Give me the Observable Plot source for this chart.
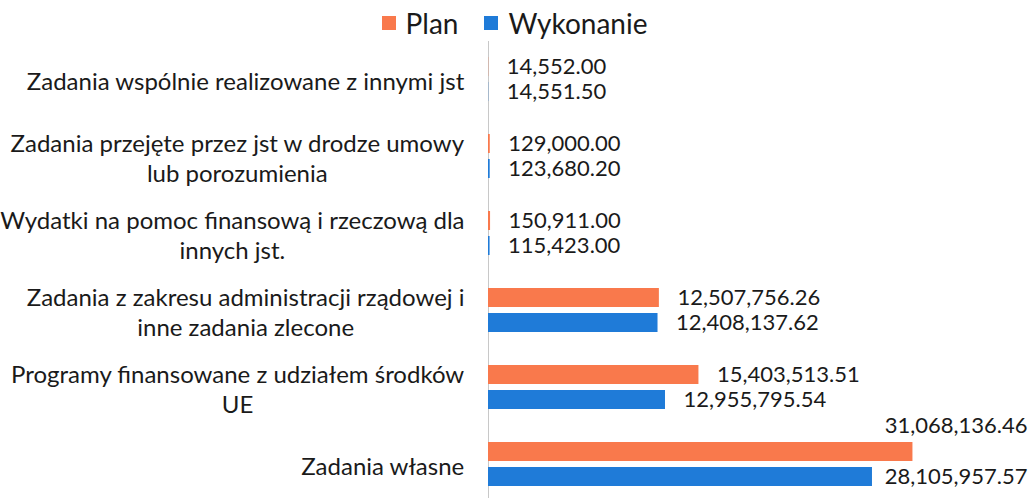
<!DOCTYPE html>
<html>
<head>
<meta charset="utf-8">
<script src="https://cdn.jsdelivr.net/npm/d3@7"></script>
<script src="https://cdn.jsdelivr.net/npm/@observablehq/plot@0.6"></script>
<style>
  html, body { margin: 0; padding: 0; background: #fff; }
  body { width: 1029px; height: 498px; overflow: hidden; font-family: Lato, sans-serif; color: #1a1a1a; }
  #legend { height: 40px; display: flex; justify-content: center; align-items: center; gap: 26px; font-size: 28px; padding-top: 6px; box-sizing: border-box; }
  #legend .item { display: flex; align-items: center; gap: 10px; }
  #legend .sw { width: 14px; height: 14px; display: inline-block; }
</style>
</head>
<body>
<div id="legend"></div>
<div id="chart"></div>
<script>
const categories = [
  "Zadania wspólnie realizowane z innymi jst",
  "Zadania przejęte przez jst w drodze umowy\nlub porozumienia",
  "Wydatki na pomoc finansową i rzeczową dla\ninnych jst.",
  "Zadania z zakresu administracji rządowej i\ninne zadania zlecone",
  "Programy finansowane z udziałem środków\nUE",
  "Zadania własne"
];
const series = ["Plan", "Wykonanie"];
const planValues = [14552.00, 129000.00, 150911.00, 12507756.26, 15403513.51, 31068136.46];
const wykonanieValues = [14551.50, 123680.20, 115423.00, 12408137.62, 12955795.54, 28105957.57];
const colors = ["#F9794C", "#1F7BD8"];

const W = 1029, H = 458, ML = 488, MR = 0, MT = 0, MB = -6;
const xMax = 39.6e6;
const labelFont = 24, valueFont = 22;
const fmt = d3.format(",.2f");

const rows = [];
categories.forEach((c, i) => {
  rows.push({category: c, series: "Plan", value: planValues[i]});
  rows.push({category: c, series: "Wykonanie", value: wykonanieValues[i]});
});

const ctx = document.createElement("canvas").getContext("2d");
function textWidth(s, size) { ctx.font = `${size}px Lato`; return ctx.measureText(s).width; }
const pxPerUnit = (W - ML - MR) / xMax;

// value labels: normal vs overflowing the right edge
rows.forEach(r => {
  const end = r.value * pxPerUnit + 18 + textWidth(fmt(r.value), valueFont);
  r.overflow = end > (W - ML - MR);
});

const catLabels = categories.map(c => {
  const w = d3.max(c.split("\n"), l => textWidth(l, labelFont));
  return {category: c, x: -(24 + w / 2) / pxPerUnit};
});

// legend
const legend = document.getElementById("legend");
series.forEach((s, i) => {
  const it = document.createElement("span");
  it.className = "item";
  it.innerHTML = `<span class="sw" style="background:${colors[i]}"></span><span>${s}</span>`;
  legend.appendChild(it);
});

const chart = Plot.plot({
  width: W, height: H,
  marginLeft: ML, marginRight: MR, marginTop: MT, marginBottom: MB,
  style: {fontFamily: "Lato, sans-serif", fontSize: "20px", color: "#1a1a1a", overflow: "visible"},
  x: {domain: [0, xMax], axis: null},
  y: {domain: series, axis: null, paddingInner: 0.23, paddingOuter: 0.6},
  fy: {domain: categories, axis: null, padding: 0},
  color: {domain: series, range: colors},
  marks: [
    Plot.ruleX(categories, {x: 0, fy: d => d, stroke: "#C8C8C8", strokeWidth: 1}),
    Plot.barX(rows, {fy: "category", y: "series", x: "value", fill: "series"}),
    Plot.text(rows.filter(r => !r.overflow), {fy: "category", y: "series", x: "value", text: d => fmt(d.value), dx: 18, textAnchor: "start", fontSize: valueFont, fill: "#1a1a1a"}),
    Plot.text(rows.filter(r => r.overflow && r.series === "Plan"), {fy: "category", y: "series", x: () => xMax, text: d => fmt(d.value), dx: -2, dy: -26, textAnchor: "end", fontSize: valueFont, fill: "#1a1a1a"}),
    Plot.text(rows.filter(r => r.overflow && r.series === "Wykonanie"), {fy: "category", y: "series", x: () => xMax, text: d => fmt(d.value), dx: -2, textAnchor: "end", fontSize: valueFont, fill: "#1a1a1a"}),
    Plot.text(catLabels, {fy: "category", x: "x", frameAnchor: "middle", text: "category", textAnchor: "middle", lineHeight: 1.25, fontSize: labelFont, fill: "#1a1a1a"})
  ]
});
document.getElementById("chart").appendChild(chart);
</script>
</body>
</html>
